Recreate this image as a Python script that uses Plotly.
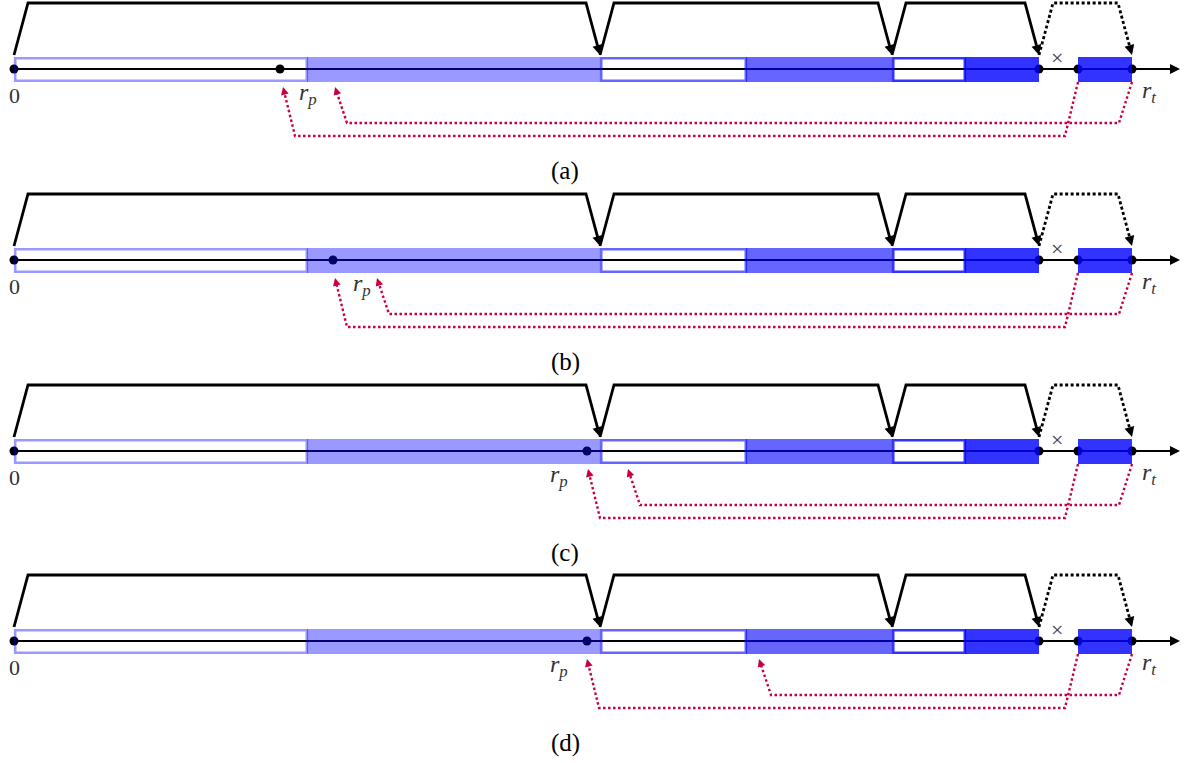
import math
import plotly.graph_objects as go

# ---------------- data ----------------
panel_names = ["(a)", "(b)", "(c)", "(d)"]
panel_axis_y = [69, 260, 451, 641]            # baseline of each timeline

seg_edges = [14, 307, 600, 746, 892, 965, 1039]
seg_filled = [False, True, False, True, False, True]
seg_alpha = [0.4, 0.4, 0.6, 0.6, 0.8, 0.8]
tail_block = [1078, 1132]
tail_alpha = 0.8
axis_start = 14
axis_end = 1180

solid_arcs = [(14, 600), (600, 892), (892, 1039)]
dotted_arc = (1039, 1132)
fixed_dots = [14, 1039, 1078, 1132]
cross_x = 1057

rp_dot_x = [280, 333, 587, 587]
rp_label_x = [308, 362, 559, 559]
red_outer_target = [283, 335, 588, 587]
red_inner_target = [335, 377, 628, 759]
red_outer_source = 1078
red_inner_source = 1132
rt_label_x = 1149
zero_label_x = 14
panel_label_x = 565

# ---------------- style ----------------
BAR_UP, BAR_DOWN = 12, 13
ARC_BASE, ARC_RISE, ARC_SLANT = 14, 66, 14
RED_TIP, RED_OUTER, RED_INNER = 18, 67, 54
RED_SRC_SLANT, RED_TGT_SLANT = 13, 12
RED = "#C8003F"
SERIF = "Liberation Serif"

fig = go.Figure()
shapes = []
annotations = []


def back_off(x0, y0, x1, y1, d):
    L = math.hypot(x1 - x0, y1 - y0)
    return x1 - (x1 - x0) * d / L, y1 - (y1 - y0) * d / L


def head(x0, y0, x1, y1, color, scale):
    tx, ty = back_off(x0, y0, x1, y1, 9)
    annotations.append(dict(
        x=x1, y=y1, ax=tx, ay=ty, xref="x", yref="y", axref="x", ayref="y",
        text="", showarrow=True, arrowhead=2, arrowsize=scale / 1.5,
        arrowwidth=1.5, arrowcolor=color, standoff=0, startstandoff=0))


def path(xs, ys, color, width, dash):
    ex, ey = back_off(xs[-2], ys[-2], xs[-1], ys[-1], 6)
    fig.add_trace(go.Scatter(
        x=xs[:-1] + [ex], y=ys[:-1] + [ey], mode="lines",
        line=dict(color=color, width=width, dash=dash),
        hoverinfo="skip", showlegend=False))
    head(xs[-2], ys[-2], xs[-1], ys[-1], color, 2.0 if color == "black" else 1.55)


for p, A in enumerate(panel_axis_y):
    # main axis
    fig.add_trace(go.Scatter(
        x=[axis_start, axis_end - 6], y=[A, A], mode="lines",
        line=dict(color="black", width=2.2), hoverinfo="skip", showlegend=False))
    head(axis_end - 20, A, axis_end, A, "black", 2.0)

    # dots
    dots = sorted(fixed_dots + [rp_dot_x[p]])
    fig.add_trace(go.Scatter(
        x=dots, y=[A] * len(dots), mode="markers",
        marker=dict(color="black", size=9), hoverinfo="skip", showlegend=False))

    # arcs
    for (x0, x1) in solid_arcs:
        path([x0, x0 + ARC_SLANT, x1 - ARC_SLANT, x1],
             [A - ARC_BASE, A - ARC_RISE, A - ARC_RISE, A - ARC_BASE],
             "black", 2.8, "solid")
    x0, x1 = dotted_arc
    path([x0, x0 + ARC_SLANT, x1 - ARC_SLANT, x1],
         [A - ARC_BASE, A - ARC_RISE, A - ARC_RISE, A - ARC_BASE],
         "black", 2.8, "3px,2.5px")

    # red dotted back-references
    for src, tgt, drop in [(red_outer_source, red_outer_target[p], RED_OUTER),
                           (red_inner_source, red_inner_target[p], RED_INNER)]:
        path([src, src - RED_SRC_SLANT, tgt + RED_TGT_SLANT, tgt],
             [A + BAR_DOWN, A + drop, A + drop, A + RED_TIP],
             RED, 2.4, "2.5px,2.5px")

    # blocks: fills
    for i in range(len(seg_filled)):
        if seg_filled[i]:
            shapes.append(dict(type="rect", xref="x", yref="y", layer="above",
                               x0=seg_edges[i], x1=seg_edges[i + 1],
                               y0=A - BAR_UP, y1=A + BAR_DOWN,
                               fillcolor=f"rgba(0,0,255,{seg_alpha[i]})",
                               line=dict(width=0)))
    shapes.append(dict(type="rect", xref="x", yref="y", layer="above",
                       x0=tail_block[0], x1=tail_block[1],
                       y0=A - BAR_UP, y1=A + BAR_DOWN,
                       fillcolor=f"rgba(0,0,255,{tail_alpha})", line=dict(width=0)))
    # blocks: outlines
    for i in range(len(seg_filled)):
        if not seg_filled[i]:
            shapes.append(dict(type="rect", xref="x", yref="y", layer="above",
                               x0=seg_edges[i] + 1.2, x1=seg_edges[i + 1] - 0.2,
                               y0=A - BAR_UP + 1.3, y1=A + BAR_DOWN - 1.3,
                               fillcolor="rgba(0,0,0,0)",
                               line=dict(color=f"rgba(0,0,255,{seg_alpha[i]})", width=2.6)))

    # labels
    annotations.append(dict(x=zero_label_x, y=A + 26, xref="x", yref="y", text="0",
                            showarrow=False, font=dict(family=SERIF, size=22, color="#333")))
    annotations.append(dict(x=rp_label_x[p], y=A + 25, xref="x", yref="y",
                            text="<i>r</i><sub><i>p</i></sub>", showarrow=False,
                            font=dict(family=SERIF, size=24, color="#333")))
    annotations.append(dict(x=rt_label_x, y=A + 23, xref="x", yref="y",
                            text="<i>r</i><sub><i>t</i></sub>", showarrow=False,
                            font=dict(family=SERIF, size=24, color="#333")))
    annotations.append(dict(x=cross_x, y=A - 12, xref="x", yref="y", text="×",
                            showarrow=False, font=dict(family=SERIF, size=22, color="#444")))
    annotations.append(dict(x=panel_label_x, y=A + 102, xref="x", yref="y",
                            text=panel_names[p], showarrow=False,
                            font=dict(family=SERIF, size=25, color="black")))

W, H = 1187, 763
fig.update_layout(
    width=W, height=H, margin=dict(l=0, r=0, t=0, b=0),
    paper_bgcolor="white", plot_bgcolor="white", showlegend=False,
    xaxis=dict(range=[0, W], visible=False, fixedrange=True),
    yaxis=dict(range=[H, 0], visible=False, fixedrange=True),
    shapes=shapes, annotations=annotations,
)
fig.write_html("out.html",
               config={"displayModeBar": False, "staticPlot": True},
               post_script="document.body.style.margin='0';"
                           "document.body.style.overflow='hidden';")
